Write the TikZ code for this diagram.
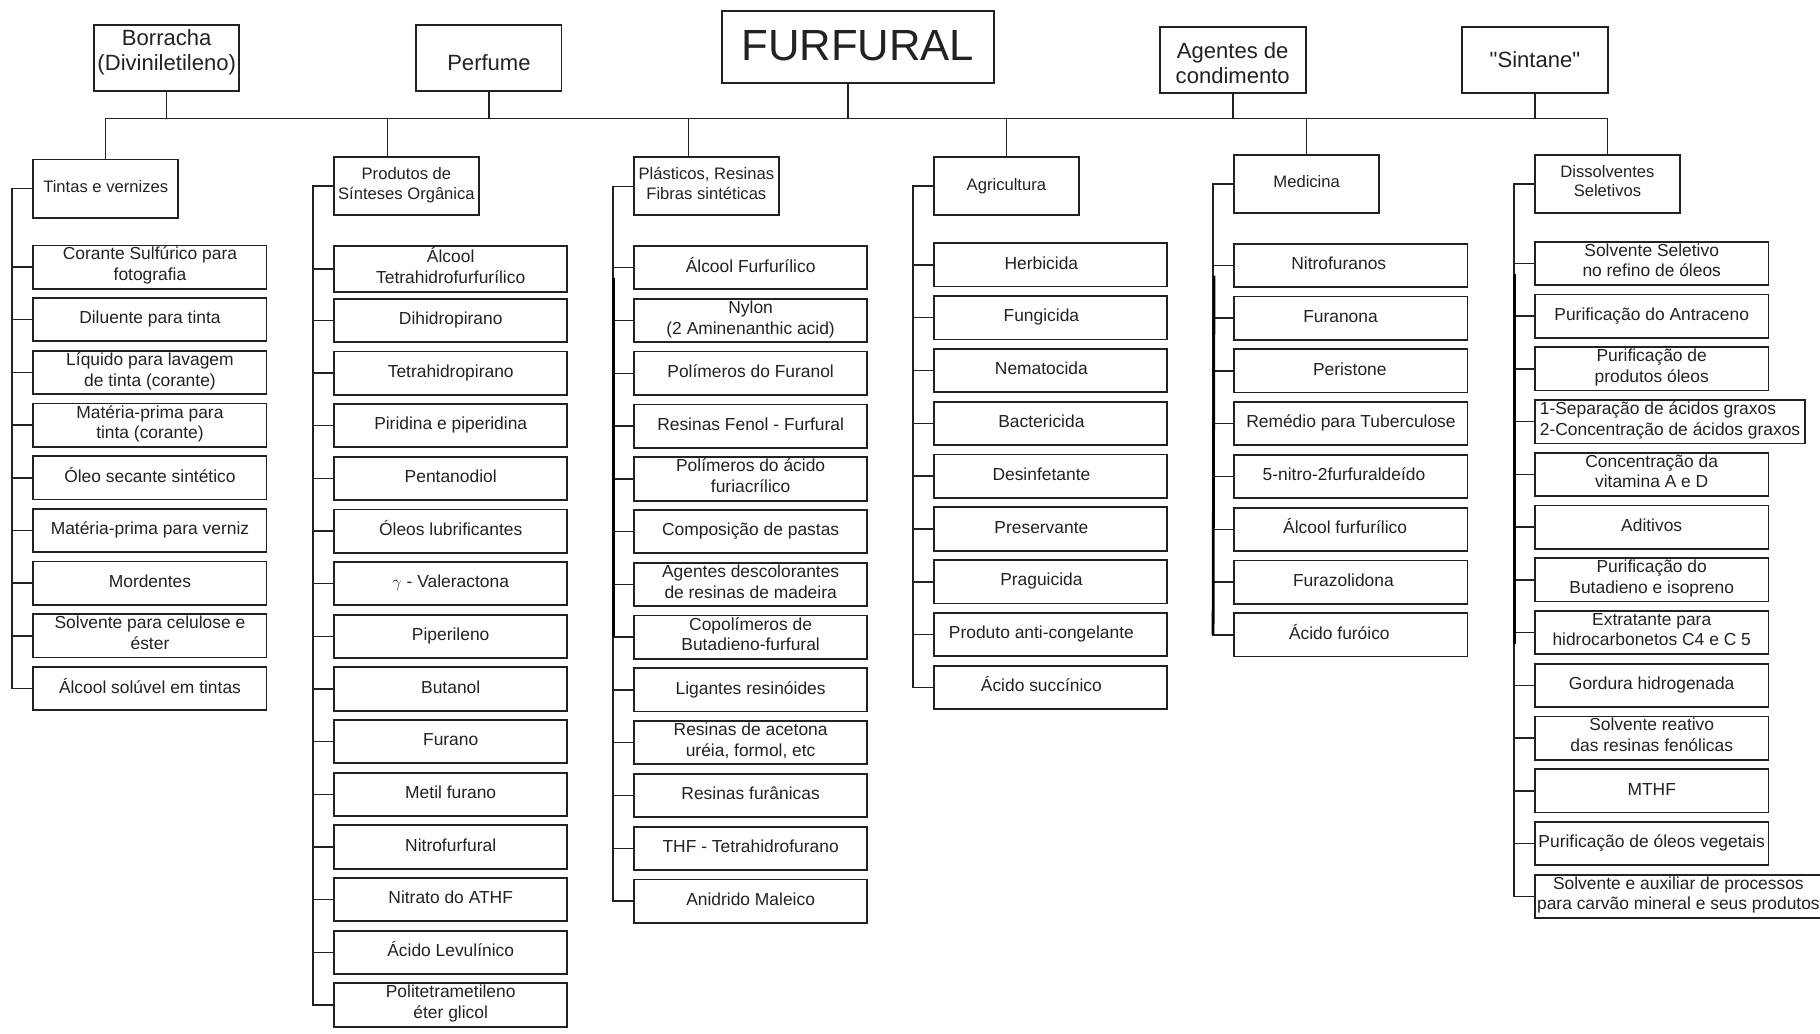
\documentclass[tikz,border=0pt]{standalone}
\usepackage{fontspec}
\setmainfont{Liberation Sans}[Ligatures=TeXOff]
\usetikzlibrary{calc}
\definecolor{ink}{HTML}{222222}

% one column of application boxes: name, left x, first top y, pitch, list of texts, extra style
\newcommand\furcolumn[6][]{%
  \foreach \txt [count=\i] in {#6}{%
    \node[itembox,#1] (#2n\i) at ({#3},{#4+(\i-1)*#5}) {\txt};
  }%
}
% spine of a column: name, number of items
\newcommand\furspine[2]{%
  \coordinate (#1s) at ($(#1h.west)+(-18.3,0)$);
  \draw[link] (#1h.west) -- (#1s) -- (#1s |- #1n#2.west) -- (#1n#2.west);
  \foreach \i in {1,...,#2}{\draw[link] (#1n\i.west) -- (#1n\i.west -| #1s);}
}
% text pushed left inside its box by half of the given amount
\newcommand\lft[2]{#2\hspace*{#1pt}}

\begin{document}
\begin{tikzpicture}[x=1pt,y=-1pt,
  box/.style={draw=ink, line width=1.5pt, rectangle, inner sep=1.5pt, outer sep=0pt,
    align=center, text=ink, anchor=north west,
    execute at begin node=\strut, execute at end node=\strut},
  topbox/.style={box, minimum width=125.1, minimum height=56.6},
  toptext/.style={inner sep=0pt, align=center, text=ink,
    font=\fontsize{19}{21.6}\selectfont,
    execute at begin node=\strut, execute at end node=\strut},
  headbox/.style={box, minimum width=124.7, minimum height=50,
    font=\fontsize{14.3}{17}\selectfont},
  itembox/.style={box, minimum width=201, minimum height=37.3,
    font=\fontsize{15}{18}\selectfont},
  textleft/.style={execute at end node={\strut\hspace*{16pt}}},
  link/.style={draw=ink, line width=1.3pt},
  heavy/.style={draw=black, line width=2.4pt}]

\path[fill=white, use as bounding box] (0,0) rectangle (1568,890);

% ---- top row ----
\node[topbox] (borracha) at (81.1,21.5) {};
\node[toptext] (borrachat) at ($(borracha.center)+(0,-3.5)$) {Borracha\\(Diviniletileno)};
\node[topbox] (perfume) at (358.7,21.5) {};
\node[toptext] (perfumet) at ($(perfume.center)+(0,7)$) {Perfume};
\node[topbox, minimum width=234.6, minimum height=61.7] (furfural) at (621.8,9.5) {};
\node[toptext, font=\fontsize{37.6}{45}\selectfont] (furfuralt) at ($(furfural.center)+(0,3)$) {FURFURAL};
\node[topbox, minimum width=125.7, minimum height=57.1] (agentes) at (999.2,23) {};
\node[toptext] (agentest) at ($(agentes.center)+(0,6.3)$) {Agentes de\\condimento};
\node[topbox, minimum width=125.4, minimum height=57.1] (sintane) at (1259.7,23) {};
\node[toptext] (sintanet) at ($(sintane.center)+(0,2.7)$) {"Sintane"};

% ---- column headers ----
\node[headbox] (c1h) at (28.7,137.5) {Tintas e vernizes};
\node[headbox] (c2h) at (287.8,135.4) {Produtos de\\Sínteses Orgânica};
\node[headbox] (c3h) at (546.2,135.5) {Plásticos, Resinas\\Fibras sintéticas};
\node[headbox] (c4h) at (804.7,135.4) {Agricultura};
\node[headbox] (c5h) at (1063.4,133.5) {Medicina};
\node[headbox] (c6h) at (1322.5,133.5) {Dissolventes\\Seletivos};

% ---- bar and stems ----
\coordinate (bar) at (0,101.9);
\draw[link] (c1h.north |- bar) -- (c6h.north |- bar);
\foreach \n in {borracha,perfume,agentes,sintane}{\draw[link] (\n.south) -- (\n.south |- bar);}
\coordinate (fstem) at ($(furfural.south)+(-8.4,0)$);
\draw[link] (fstem) -- (fstem |- bar);
\coordinate (c2d) at ($(c2h.north)+(-16.2,0)$);
\coordinate (c3d) at ($(c3h.north)+(-15.2,0)$);
\draw[link] (c2d) -- (c2d |- bar);
\draw[link] (c3d) -- (c3d |- bar);
\foreach \n in {c1h,c4h,c5h,c6h}{\draw[link] (\n.north) -- (\n.north |- bar);}

% ---- columns ----
\furcolumn{c1}{28.7}{211.4}{45.4}{{Corante Sulfúrico para\\fotografia},{Diluente para tinta},
  {Líquido para lavagem\\de tinta (corante)},{Matéria-prima para\\tinta (corante)},
  {Óleo secante sintético},{Matéria-prima para verniz},{Mordentes},
  {Solvente para celulose e\\éster},{Álcool solúvel em tintas}}
\furspine{c1}{9}

\furcolumn{c2}{287.8}{212}{45.37}{{Álcool\\Tetrahidrofurfurílico},{Dihidropirano},
  {Tetrahidropirano},{Piridina e piperidina},{Pentanodiol},{Óleos lubrificantes},
  {$\gamma$ - Valeractona},{Piperileno},{Butanol},{Furano},{Metil furano},
  {Nitrofurfural},{Nitrato do ATHF},{Ácido Levulínico},{Politetrametileno\\éter glicol}}
\furspine{c2}{15}

\furcolumn{c3}{546.2}{212}{45.47}{{Álcool Furfurílico},{Nylon\\(2 Aminenanthic acid)},
  {Polímeros do Furanol},{Resinas Fenol - Furfural},{Polímeros do ácido\\furiacrílico},
  {Composição de pastas},{Agentes descolorantes\\de resinas de madeira},
  {Copolímeros de\\Butadieno-furfural},{Ligantes resinóides},
  {Resinas de acetona\\uréia, formol, etc},{Resinas furânicas},
  {THF - Tetrahidrofurano},{Anidrido Maleico}}
\furspine{c3}{13}

\furcolumn[textleft]{c4}{804.7}{209.6}{45.5}{{Herbicida},{Fungicida},{Nematocida},{Bactericida},
  {Desinfetante},{Preservante},{Praguicida},{Produto anti-congelante},{Ácido succínico}}
\furspine{c4}{9}

\furcolumn{c5}{1063.4}{209.9}{45.5}{{\lft{21}{Nitrofuranos}},{\lft{18}{Furanona}},
  {\lft{2}{Peristone}},{Remédio para Tuberculose},{\lft{12}{5-nitro-2furfuraldeído}},
  {\lft{10}{Álcool furfurílico}},{\lft{13}{Furazolidona}},{\lft{20}{Ácido furóico}}}
\furspine{c5}{8}

\foreach \txt [count=\i] in {{Solvente Seletivo\\no refino de óleos},{Purificação do Antraceno},
  {Purificação de\\produtos óleos},
  {1-Separação de ácidos graxos\\2-Concentração de ácidos graxos},
  {Concentração da\\vitamina A e D},{Aditivos},{Purificação do\\Butadieno e isopreno},
  {Extratante para\\hidrocarbonetos C4 e C 5},{Gordura hidrogenada},
  {Solvente reativo\\das resinas fenólicas},{MTHF},{Purificação de óleos vegetais},
  {Solvente e auxiliar de processos\\para carvão mineral e seus produtos}}{%
  \ifnum\i=4
    \node[itembox, minimum width=232.6, align=left] (c6n\i) at ({1322.5},{208.2+(\i-1)*45.45}) {\txt};
  \else\ifnum\i=13
    \node[itembox, minimum width=247] (c6n\i) at ({1322.5},{208.2+(\i-1)*45.45}) {\txt};
  \else
    \node[itembox] (c6n\i) at ({1322.5},{208.2+(\i-1)*45.45}) {\txt};
  \fi\fi
}
\furspine{c6}{13}

% heavier, doubled stretches of some spines
\draw[heavy] ($(c3s |- c3n1.west)+(0.8,9)$) -- ($(c3s |- c3n8.west)+(0.8,0)$);
\draw[heavy] ($(c5s |- c5n1.west)+(0.8,9)$) -- (c5s |- c5n8.west);
\draw[heavy] ($(c6s |- c6n1.west)+(0.8,9)$) -- ($(c6s |- c6n8.west)+(0.8,10)$);

\end{tikzpicture}
\end{document}
